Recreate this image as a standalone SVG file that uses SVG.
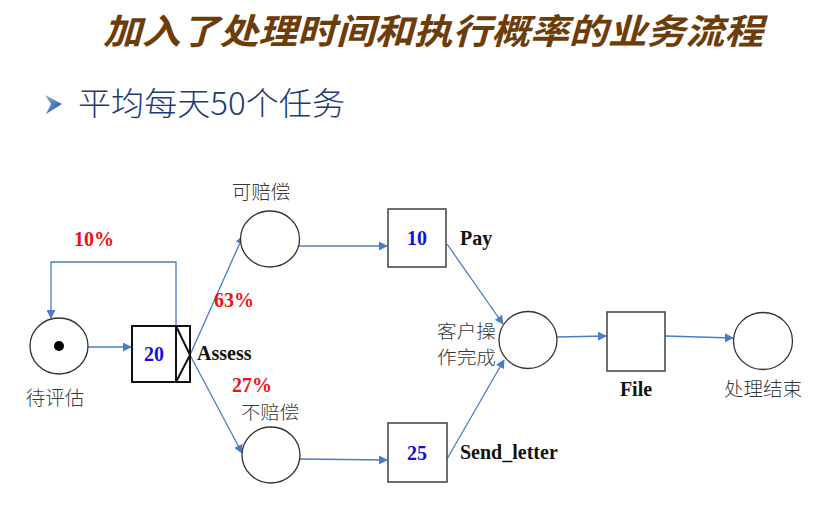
<svg xmlns="http://www.w3.org/2000/svg" width="837" height="507" viewBox="0 0 837 507">
  <defs>
    <style>
      .title { font-family: "Noto Sans CJK SC", "Noto Sans", sans-serif; font-size: 35px; font-weight: bold; font-style: italic; fill: #6E3C08; }
      .sub { font-family: "Noto Sans CJK SC", "Noto Sans", sans-serif; font-size: 32px; font-weight: 300; fill: #1E3A78; }
      .place { fill: #FFFFFF; stroke: #333333; stroke-width: 1.3; }
      .trans { fill: #FFFFFF; stroke: #404040; stroke-width: 1.5; }
      .trans-dark { fill: #FFFFFF; stroke: #111111; stroke-width: 2; }
      .lbl { font-family: "Noto Sans CJK SC", "Liberation Serif", sans-serif; font-size: 19.5px; font-weight: 300; fill: #383838; }
      .lbl-sm { font-size: 18px; }
      .name { font-family: "Liberation Serif", serif; font-size: 20px; font-weight: bold; fill: #111111; }
      .time { font-family: "Liberation Serif", serif; font-size: 20px; font-weight: bold; fill: #1010E0; text-anchor: middle; }
      .prob { font-family: "Liberation Serif", serif; font-size: 20px; font-weight: bold; fill: #F01010; }
      .arc { fill: none; stroke: #4A7CC8; stroke-width: 1.3; marker-end: url(#head); }
    </style>
    <marker id="head" viewBox="0 0 10 10" refX="9" refY="5" markerWidth="9" markerHeight="9" markerUnits="userSpaceOnUse" orient="auto">
      <path d="M0,0 L10,5 L0,10 Z" fill="#4A7CC8"/>
    </marker>
    <linearGradient id="bulletGrad" x1="0" y1="0" x2="1" y2="1">
      <stop offset="0" stop-color="#8FB0E8"/>
      <stop offset="1" stop-color="#1A4A9E"/>
    </linearGradient>
  </defs>

  <!-- heading -->
  <text class="title" x="103" y="44" textLength="660" lengthAdjust="spacingAndGlyphs">加入了处理时间和执行概率的业务流程</text>

  <!-- bullet line -->
  <path d="M45,95 L62,104 L46,114 L51,104 Z" fill="url(#bulletGrad)"/>
  <text class="sub" x="78" y="115" textLength="267" lengthAdjust="spacingAndGlyphs">平均每天50个任务</text>

  <!-- connectors -->
  <g id="connectors">
    <path class="arc" d="M88,347 L131,347"/>
    <path class="arc" d="M176,326 L176,262 L51,262 L51,318"/>
    <path class="arc" d="M190,355 L243,236"/>
    <path class="arc" d="M190,355 L242,453"/>
    <path class="arc" d="M299,246 L387,246"/>
    <path class="arc" d="M300,459 L387,460"/>
    <path class="arc" d="M447,244 L503,324"/>
    <path class="arc" d="M447,459 L504,360"/>
    <path class="arc" d="M557,337 L606,336"/>
    <path class="arc" d="M665,336 L733,338"/>
  </g>

  <!-- places -->
  <g id="p_start">
    <ellipse class="place" cx="59" cy="346" rx="29" ry="28"/>
    <circle cx="59" cy="346" r="5" fill="#000000"/>
    <text class="lbl" x="55" y="405" text-anchor="middle">待评估</text>
  </g>
  <g id="p_pay">
    <ellipse class="place" cx="270" cy="239" rx="29.5" ry="28"/>
    <text class="lbl" x="261" y="199" text-anchor="middle">可赔偿</text>
  </g>
  <g id="p_nopay">
    <ellipse class="place" cx="271" cy="455" rx="29" ry="28"/>
    <text class="lbl lbl-sm" x="270" y="419" text-anchor="middle" textLength="58" lengthAdjust="spacingAndGlyphs">不赔偿</text>
  </g>
  <g id="p_done">
    <ellipse class="place" cx="528" cy="340" rx="29" ry="28.5"/>
    <text class="lbl lbl-sm" x="496" y="338" text-anchor="end" textLength="59" lengthAdjust="spacingAndGlyphs">客户操</text>
    <text class="lbl lbl-sm" x="496" y="364" text-anchor="end" textLength="59" lengthAdjust="spacingAndGlyphs">作完成</text>
  </g>
  <g id="p_end">
    <ellipse class="place" cx="763" cy="341" rx="29.5" ry="28.5"/>
    <text class="lbl" x="763" y="396" text-anchor="middle">处理结束</text>
  </g>

  <!-- transitions -->
  <g id="t_assess">
    <rect class="trans-dark" x="132" y="326" width="58" height="56"/>
    <path d="M176,326 L176,382 M176,326 L190,355 L176,382" fill="none" stroke="#111111" stroke-width="2"/>
    <text class="time" x="154" y="361">20</text>
    <text class="name" x="197" y="360">Assess</text>
    <text class="prob" x="74" y="246">10%</text>
    <text class="prob" x="214" y="307">63%</text>
    <text class="prob" x="232" y="392">27%</text>
  </g>
  <g id="t_pay">
    <rect class="trans" x="388" y="209" width="58" height="58"/>
    <text class="time" x="417" y="245">10</text>
    <text class="name" x="460" y="245">Pay</text>
  </g>
  <g id="t_send">
    <rect class="trans" x="388" y="423" width="59" height="59"/>
    <text class="time" x="417" y="460">25</text>
    <text class="name" x="460" y="459">Send_letter</text>
  </g>
  <g id="t_file">
    <rect class="trans" x="607" y="312" width="58" height="59"/>
    <text class="name" x="636" y="396" text-anchor="middle">File</text>
  </g>
</svg>
